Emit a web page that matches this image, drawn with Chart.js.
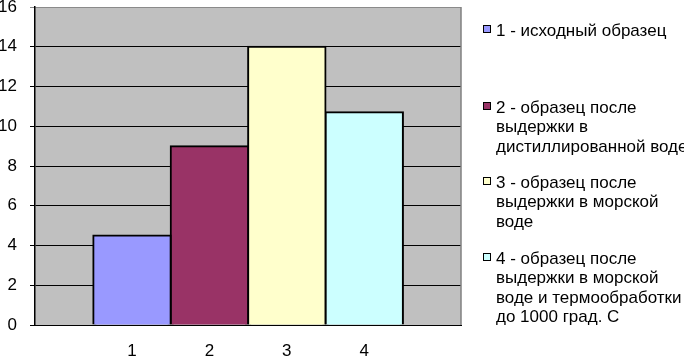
<!DOCTYPE html>
<html>
<head>
<meta charset="utf-8">
<script src="https://cdn.jsdelivr.net/npm/chart.js@4/dist/chart.umd.min.js"></script>
<style>
  html, body { margin: 0; padding: 0; background: #fff; }
  #wrap { position: relative; width: 684px; height: 357px; overflow: hidden; }
  #c { position: absolute; left: 0; top: 0; }
  .leg { position: absolute; left: 483px; font-family: "Liberation Sans", Arial, sans-serif; font-size: 17px; line-height: 19.3px; color: #000; white-space: nowrap; }
  .leg .sw { position: absolute; left: 0; top: 4px; width: 6px; height: 6px; border: 1px solid #000; }
  .leg .tx { position: absolute; left: 13px; top: 0; }
</style>
</head>
<body>
<div id="wrap">
  <canvas id="c" width="684" height="357"></canvas>
  <div id="legend"></div>
</div>
<script>
const categories = ['1', '2', '3', '4'];
const values = [4.5, 9, 14, 10.7];
const seriesNames = [
  ['1 - исходный образец'],
  ['2 - образец после', 'выдержки в', 'дистиллированной воде'],
  ['3 - образец после', 'выдержки в морской', 'воде'],
  ['4 - образец после', 'выдержки в морской', 'воде и термообработки', 'до 1000 град. С']
];
const yTicks = [0, 2, 4, 6, 8, 10, 12, 14, 16];

const colors = ['#9999ff', '#993366', '#ffffcc', '#ccffff'];
const legendTops = [21, 98, 173, 249];

// HTML legend
const legendEl = document.getElementById('legend');
seriesNames.forEach((lines, i) => {
  const d = document.createElement('div');
  d.className = 'leg';
  d.style.top = legendTops[i] + 'px';
  const sw = document.createElement('div');
  sw.className = 'sw';
  sw.style.background = colors[i];
  const tx = document.createElement('div');
  tx.className = 'tx';
  tx.innerHTML = lines.map(l => l.replace(/&/g, '&amp;').replace(/</g, '&lt;')).join('<br>');
  d.appendChild(sw);
  d.appendChild(tx);
  legendEl.appendChild(d);
});

const plotBg = {
  id: 'plotBg',
  beforeDraw(chart) {
    const { ctx, chartArea: a } = chart;
    ctx.save();
    ctx.fillStyle = '#c0c0c0';
    ctx.fillRect(a.left, a.top, a.right - a.left, a.bottom - a.top);
    ctx.restore();
  },
  beforeDatasetsDraw(chart) {
    const { ctx, chartArea: a } = chart;
    ctx.save();
    ctx.strokeStyle = '#808080';
    ctx.lineWidth = 1.5;
    ctx.beginPath();
    ctx.moveTo(a.right, a.top);
    ctx.lineTo(a.right, a.bottom);
    ctx.stroke();
    ctx.restore();
  }
};

const datasets = categories.map((c, i) => ({
  label: seriesNames[i].join(' '),
  data: [{ x: i + 1, y: values[i] }],
  backgroundColor: colors[i],
  borderColor: '#000',
  borderWidth: 2,
  borderSkipped: 'start',
  inflateAmount: 1,
  barPercentage: 1,
  categoryPercentage: 1
}));

const font = { family: '"Liberation Sans", Arial, sans-serif', size: 17 };

new Chart(document.getElementById('c'), {
  type: 'bar',
  data: { datasets },
  options: {
    responsive: false,
    animation: false,
    layout: { padding: { top: 7, right: 223, left: 0, bottom: 0 } },
    plugins: { legend: { display: false }, tooltip: { enabled: false } },
    scales: {
      x: {
        type: 'linear',
        offset: false,
        stacked: true,
        min: 0.5 - 0.753,
        max: categories.length + 0.5 + 0.75,
        grid: { display: false, drawTicks: false, offset: false },
        border: { display: true, color: '#000', width: 1 },
        afterBuildTicks: (s) => { s.ticks = categories.map((c, i) => ({ value: i + 1 })); },
        afterFit: (s) => { s.height = 32; s.paddingLeft = 0; s.paddingRight = 0; },
        ticks: {
          color: '#000',
          font,
          padding: 16,
          maxRotation: 0,
          autoSkip: false,
          callback: (v) => categories[Math.round(v) - 1] ?? ''
        }
      },
      y: {
        stacked: true,
        min: 0,
        max: 16,
        afterBuildTicks: (s) => { s.ticks = yTicks.map(v => ({ value: v })); },
        afterFit: (s) => { s.width = 35; s.paddingTop = 0; s.paddingBottom = 0; },
        grid: {
          color: (ctx) => (ctx.tick && ctx.tick.value === 16) ? '#8a8a8a' : '#000',
          lineWidth: 1,
          tickLength: 5,
          drawTicks: true
        },
        border: { display: true, color: '#000', width: 1.5 },
        ticks: { color: '#000', font, padding: 13 }
      }
    }
  },
  plugins: [plotBg]
});
</script>
</body>
</html>
